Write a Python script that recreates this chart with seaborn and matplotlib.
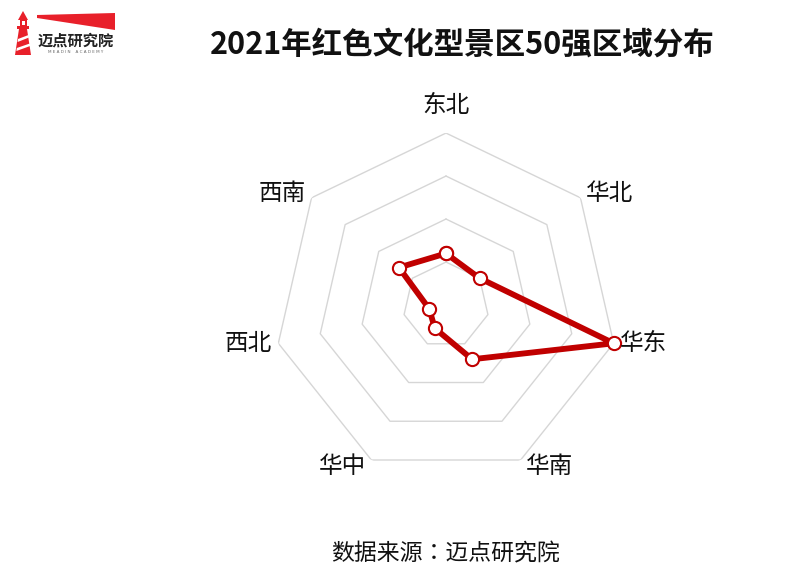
import numpy as np
import pandas as pd
import matplotlib
matplotlib.use("Agg")
import matplotlib.pyplot as plt
from matplotlib.patches import Polygon, Rectangle
import seaborn as sns

# ---- data ----
regions = ["东北", "华北", "华东", "华南", "华中", "西北", "西南"]
counts = [6, 5, 20, 7, 3, 2, 7]
ring_levels = [5, 10, 15, 20]
title = "2021年红色文化型景区50强区域分布"
source = "数据来源：迈点研究院"
brand = "迈点研究院"
brand_en = "M E A D I N    A C A D E M Y"

sns.set_theme(style="white")
plt.rcParams["font.family"] = ["Noto Sans CJK SC", "DejaVu Sans"]

RED = "#C00000"
GRID = "#D6D6D6"

n = len(regions)
theta = np.arange(n) * 2 * np.pi / n
theta_closed = np.append(theta, 2 * np.pi)
df = pd.DataFrame({"theta": theta_closed, "count": counts + [counts[0]]})

fig = plt.figure(figsize=(8, 5.73), dpi=100)
ax = fig.add_axes([0.3425, 0.1675, 0.43, 0.6003], projection="polar")
ax.set_theta_zero_location("N")
ax.set_theta_direction(-1)
ax.set_ylim(0, max(ring_levels))
ax.set_xticks([])
ax.set_yticks([])
ax.grid(False)
ax.spines["polar"].set_visible(False)
ax.patch.set_alpha(0)

for lv in ring_levels:
    ax.plot(theta_closed, [lv] * len(theta_closed), color=GRID, lw=1.0, zorder=1)

sns.lineplot(data=df, x="theta", y="count", sort=False, estimator=None, ax=ax,
             color=RED, lw=4.2, marker="o", markersize=9.5,
             markerfacecolor="white", markeredgecolor=RED, markeredgewidth=1.5,
             zorder=3, clip_on=False)
ax.set_xlabel("")
ax.set_ylabel("")

# axis labels
for th, lab in zip(theta, regions):
    s = np.sin(th)
    c = np.cos(th)
    if abs(s) < 1e-6:
        ha, off = "center", (0, 20)
    elif s > 0:
        ha, off = "left", (4, 5 * c)
    else:
        ha, off = "right", (-4, 5 * c)
    if abs(c) < 0.3:
        off = (off[0] * 1.1, 0)
    ax.annotate(lab, xy=(th, max(ring_levels)), xytext=off, textcoords="offset points",
                ha=ha, va="center", fontsize=17, color="#111111", annotation_clip=False)

# overlay for title, source, logo
ov = fig.add_axes([0, 0, 1, 1])
ov.set_xlim(0, 800)
ov.set_ylim(573, 0)
ov.axis("off")
ov.patch.set_alpha(0)

ov.text(462, 45, title, ha="center", va="center", fontsize=22, fontweight="bold", color="#111111")
ov.text(446, 554, source, ha="center", va="center", fontsize=16.5, color="#111111",
        family=["Noto Sans CJK TC", "DejaVu Sans"])

# logo
ov.add_patch(Polygon([(37, 15), (115, 13), (115, 30), (37, 18)], closed=True, color="#E8202A", lw=0))
ov.add_patch(Polygon([(18, 20), (23, 11), (28, 20)], closed=True, color="#E8202A", lw=0))
ov.add_patch(Rectangle((19.5, 20), 7, 6, color="#E8202A", lw=0))
ov.add_patch(Rectangle((21.5, 21), 3, 4, color="white", lw=0))
ov.add_patch(Rectangle((17, 26), 12, 3, color="#E8202A", lw=0))
ov.add_patch(Polygon([(19, 29), (27, 29), (31, 55), (15, 55)], closed=True, color="#E8202A", lw=0))
ov.add_patch(Polygon([(18, 39), (28.5, 35), (29, 37.5), (17.6, 42)], closed=True, color="white", lw=0))
ov.add_patch(Polygon([(16.8, 48), (29.8, 43.5), (30.2, 46), (16.4, 51)], closed=True, color="white", lw=0))
ov.text(76, 41, brand, ha="center", va="center", fontsize=11, fontweight="bold", color="#222222")
ov.text(76, 52, brand_en, ha="center", va="center", fontsize=3, color="#666666", family="DejaVu Sans")

fig.savefig("out.png", dpi=100)
